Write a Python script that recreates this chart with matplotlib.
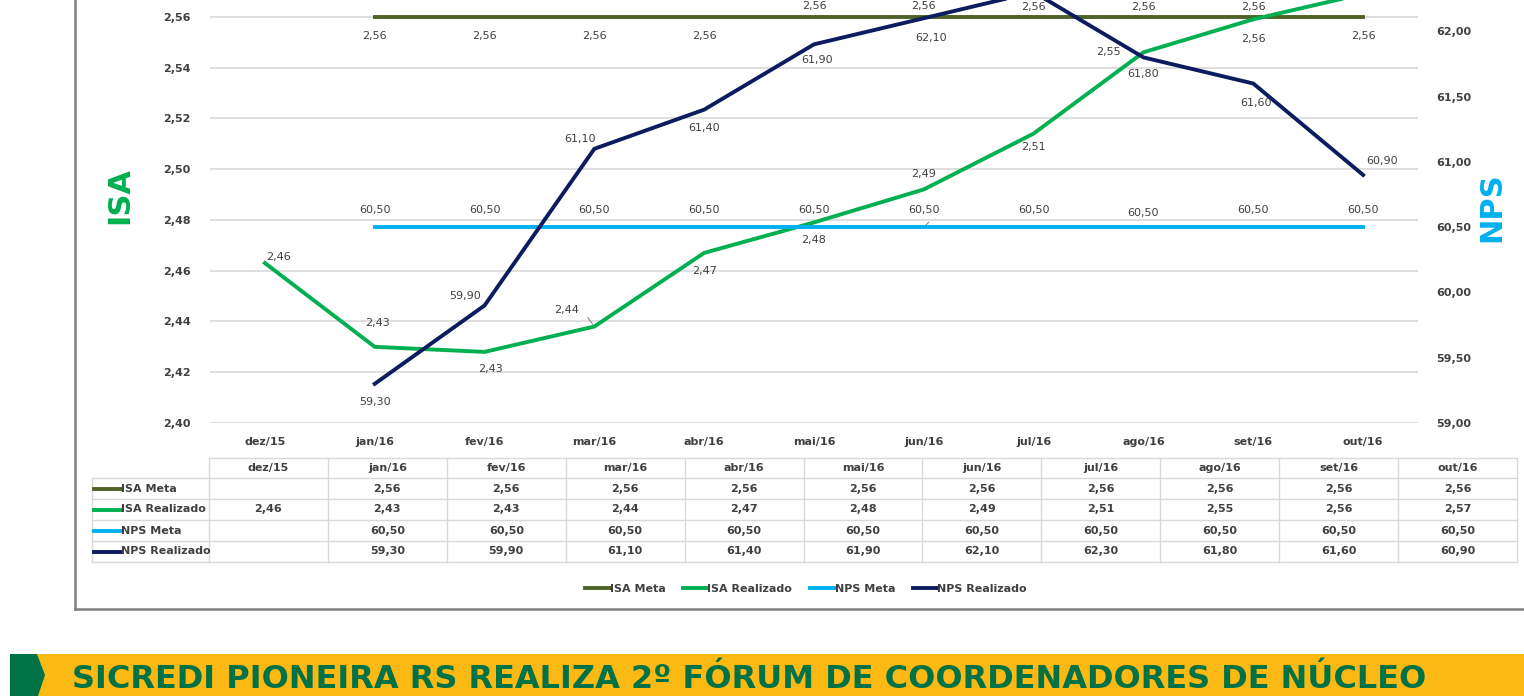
import numpy as np
import matplotlib
matplotlib.use("Agg")
import matplotlib.pyplot as plt
from matplotlib.lines import Line2D
from matplotlib.patches import Rectangle, Polygon

# Data
meses = ["dez/15", "jan/16", "fev/16", "mar/16", "abr/16", "mai/16",
         "jun/16", "jul/16", "ago/16", "set/16", "out/16"]
isa_meta = [np.nan, 2.56, 2.56, 2.56, 2.56, 2.56, 2.56, 2.56, 2.56, 2.56, 2.56]
isa_real = [2.463, 2.430, 2.428, 2.438, 2.467, 2.479, 2.492, 2.514, 2.546, 2.559, 2.569]
nps_meta = [np.nan, 60.5, 60.5, 60.5, 60.5, 60.5, 60.5, 60.5, 60.5, 60.5, 60.5]
nps_real = [np.nan, 59.3, 59.9, 61.1, 61.4, 61.9, 62.1, 62.3, 61.8, 61.6, 60.9]
isa_ticks = [2.40, 2.42, 2.44, 2.46, 2.48, 2.50, 2.52, 2.54, 2.56]
nps_ticks = [59.0, 59.5, 60.0, 60.5, 61.0, 61.5, 62.0]
titulo = "SICREDI PIONEIRA RS REALIZA 2º FÓRUM DE COORDENADORES DE NÚCLEO"

# label offsets in points (dx, dy); None = label falls outside the crop
off_isa_meta = [None, (0, -14), (0, -14), (0, -14), (0, -14), (0, 8), (0, 8),
                (0, 7), (0, 7), (0, 7), (0, -14)]
off_isa_real = [(10, 4), (2, 17), (4, -12), (-20, 12), (0, -13), (0, -13),
                (0, 11), (0, -10), (-25, 0), (0, -14), None]
off_nps_meta = [None] + [(0, 12)] * 7 + [(0, 10), (0, 12), (0, 12)]
off_nps_real = [None, (0, -13), (-14, 7), (-10, 7), (0, -13), (2, -11),
                (5, -14), None, (0, -12), (2, -14), (14, 10)]

c_isa_meta = "#4f6228"
c_isa_real = "#00b050"
c_nps_meta = "#00b0f0"
c_nps_real = "#0d1c5e"
c_txt = "#404040"
fs = 8

W, H = 1524, 696
def fx(x):
    return x / W
def fy(y):
    return 1 - y / H

def fmt(v):
    return "" if np.isnan(v) else f"{v:.2f}".replace(".", ",")

fig = plt.figure(figsize=(W / 100, H / 100), dpi=100)
fig.patch.set_facecolor("white")

ax = fig.add_axes([fx(210), fy(423), 1208 / W, 457 / H])
ax2 = ax.twinx()
x = np.arange(len(meses))

ax.set_xlim(-0.5, len(meses) - 0.5)
ax.set_ylim(2.40, 2.58)
ax2.set_ylim(59.0, 62.5)
ax.set_yticks(isa_ticks)
ax.set_yticklabels([fmt(v) for v in isa_ticks])
ax2.set_yticks(nps_ticks)
ax2.set_yticklabels([fmt(v) for v in nps_ticks])
ax.set_xticks(x)
ax.set_xticklabels(meses)
ax.grid(axis="y", color="#d9d9d9", lw=1.2)
ax.set_axisbelow(True)
for a in (ax, ax2):
    for s in a.spines.values():
        s.set_visible(False)
ax.tick_params(axis="y", length=0, pad=14, labelsize=fs, labelcolor=c_txt)
ax2.tick_params(axis="y", length=0, pad=13, labelsize=fs, labelcolor=c_txt)
ax.tick_params(axis="x", length=0, pad=10, labelsize=fs, labelcolor=c_txt)
for lab in ax.get_yticklabels() + ax2.get_yticklabels() + ax.get_xticklabels():
    lab.set_fontweight("bold")

ax.plot(x, isa_meta, color=c_isa_meta, lw=2.8, zorder=3)
ax.plot(x, isa_real, color=c_isa_real, lw=2.8, zorder=3)
ax2.plot(x, nps_meta, color=c_nps_meta, lw=2.8, zorder=3)
ax2.plot(x, nps_real, color=c_nps_real, lw=2.8, zorder=4)

def rotulos(a, vals, offs):
    for i, v in enumerate(vals):
        if offs[i] is None or np.isnan(v):
            continue
        a.annotate(fmt(v), (i, v), xytext=offs[i], textcoords="offset points",
                   ha="center", va="center", fontsize=fs, color=c_txt,
                   annotation_clip=False, zorder=6)

rotulos(ax, isa_meta, off_isa_meta)
rotulos(ax, isa_real, off_isa_real)
rotulos(ax2, nps_meta, off_nps_meta)
rotulos(ax2, nps_real, off_nps_real)

# small leader lines next to two labels
ax.annotate("", (3, isa_real[3]), xytext=(-6, 8), textcoords="offset points",
            arrowprops=dict(arrowstyle="-", color="#7f7f7f", lw=0.7))
ax2.annotate("", (6, nps_meta[6]), xytext=(5, 5), textcoords="offset points",
             arrowprops=dict(arrowstyle="-", color="#7f7f7f", lw=0.7))

fig.text(fx(120), fy(195), "ISA", rotation=90, ha="center", va="center",
         fontsize=22, fontweight="bold", color=c_isa_real)
fig.text(fx(1492), fy(207), "NPS", rotation=90, ha="center", va="center",
         fontsize=22, fontweight="bold", color=c_nps_meta)

# data table
tab_left, tab_right, lab_left = 209, 1517, 92
col_w = (tab_right - tab_left) / len(meses)
rows = [458, 478, 499, 520, 541, 562]
gcol = "#d9d9d9"
lines = []
lines.append(Line2D([fx(tab_left), fx(tab_right)], [fy(rows[0])] * 2))
for r in rows[1:]:
    lines.append(Line2D([fx(lab_left), fx(tab_right)], [fy(r)] * 2))
lines.append(Line2D([fx(lab_left)] * 2, [fy(rows[1]), fy(rows[-1])]))
for j in range(len(meses) + 1):
    cx = tab_left + j * col_w
    lines.append(Line2D([fx(cx)] * 2, [fy(rows[0]), fy(rows[-1])]))
for ln in lines:
    ln.set_color(gcol)
    ln.set_linewidth(1)
    fig.add_artist(ln)

series = [("ISA Meta", isa_meta, c_isa_meta), ("ISA Realizado", isa_real, c_isa_real),
          ("NPS Meta", nps_meta, c_nps_meta), ("NPS Realizado", nps_real, c_nps_real)]
for j, m in enumerate(meses):
    cx = tab_left + (j + 0.5) * col_w
    fig.text(fx(cx), fy((rows[0] + rows[1]) / 2), m, ha="center", va="center",
             fontsize=fs, fontweight="bold", color=c_txt)
for i, (nome, vals, cor) in enumerate(series):
    yc = (rows[i + 1] + rows[i + 2]) / 2
    fig.add_artist(Line2D([fx(94), fx(121)], [fy(yc)] * 2, color=cor, lw=2.8))
    fig.text(fx(121), fy(yc), nome, ha="left", va="center", fontsize=fs,
             fontweight="bold", color=c_txt)
    for j, v in enumerate(vals):
        cx = tab_left + (j + 0.5) * col_w
        fig.text(fx(cx), fy(yc), fmt(v), ha="center", va="center",
                 fontsize=fs, fontweight="bold", color=c_txt)

# legend
handles = [Line2D([], [], color=c, lw=2.8) for _, _, c in series]
fig.legend(handles, [s[0] for s in series], loc="center", ncol=4,
           bbox_to_anchor=(fx(806), fy(589)), frameon=False, handlelength=2.2,
           handletextpad=0.0, columnspacing=1.6,
           prop={"size": fs, "weight": "bold"})
for t in fig.legends[0].get_texts():
    t.set_color(c_txt)

# outer frame
fig.add_artist(Line2D([fx(75), fx(75)], [fy(0), fy(609)], color="#7f7f7f", lw=1.8))
fig.add_artist(Line2D([fx(75), fx(W)], [fy(609), fy(609)], color="#7f7f7f", lw=1.8))

# banner
fig.add_artist(Rectangle((fx(10), 0), fx(W) - fx(10), fy(654), transform=fig.transFigure,
                         facecolor="#fdb913", edgecolor="none"))
fig.add_artist(Polygon([(fx(10), fy(654)), (fx(37), fy(654)), (fx(45), fy(675)),
                        (fx(38), fy(696)), (fx(10), fy(696))], closed=True,
                       transform=fig.transFigure, facecolor="#007245", edgecolor="none"))
fig.text(fx(72), fy(680), titulo, ha="left", va="center", fontsize=23,
         fontweight="bold", color="#007245")

fig.savefig("out.png", dpi=100)
